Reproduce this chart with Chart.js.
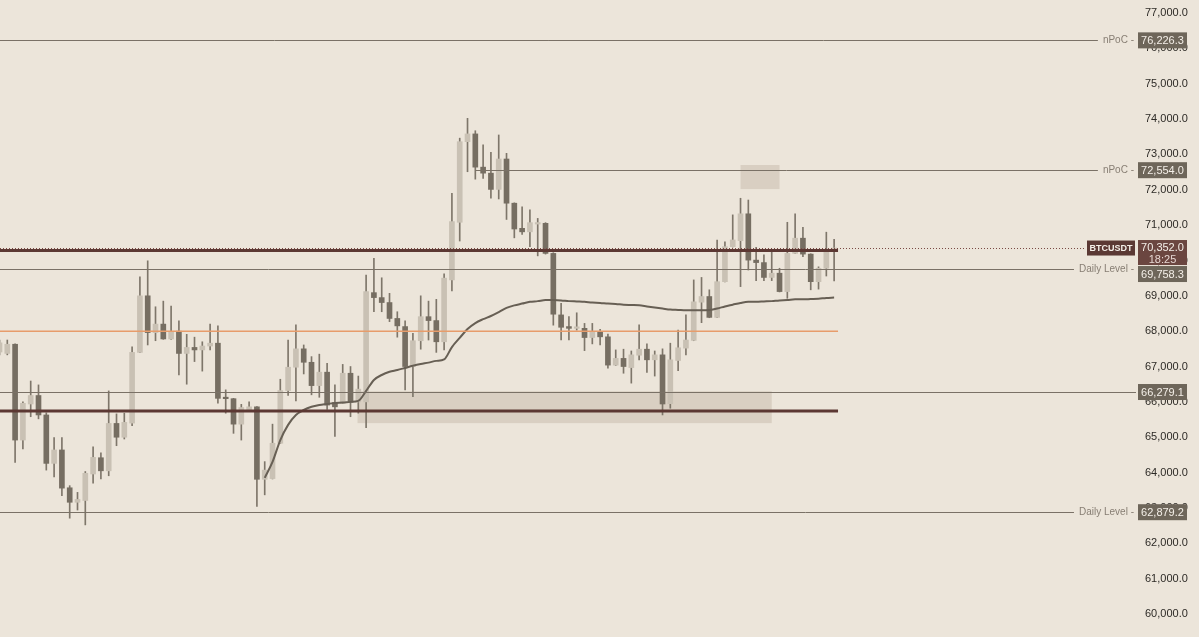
<!DOCTYPE html>
<html>
<head>
<meta charset="utf-8">
<title>BTCUSDT</title>
<script src="https://cdn.jsdelivr.net/npm/chart.js@4.4.1/dist/chart.umd.min.js"></script>
<style>
  html, body { margin: 0; padding: 0; background: #ece5da; }
  #wrap { width: 1199px; height: 637px; }
</style>
</head>
<body>
<div id="wrap"><canvas id="chart"></canvas></div>
<script>
// candles, one per bar index
const opens = [67410, 67370, 67630, 64920, 65940, 66180, 65630, 64260, 64640, 63570,
  63160, 63210, 63960, 64420, 64050, 65390, 65000, 65400, 67400, 69000,
  67960, 68200, 67780, 68000, 67370, 67540, 67470, 67580, 67660, 66100,
  66090, 65370, 65770, 65860, 63810, 63830, 64830, 66320, 66980, 67500,
  67120, 66460, 66840, 65980, 65960, 66810, 66000, 66000, 69090, 68950,
  68810, 68360, 68130, 67000, 67730, 68410, 68300, 67700, 69450, 71080,
  73360, 73580, 72640, 72470, 72010, 72870, 71620, 70910, 70810, 71030,
  71050, 70200, 68460, 68130, 68080, 68080, 67820, 67990, 67840, 67040,
  67230, 66970, 67320, 67490, 67190, 67330, 65950, 67170, 67520, 67740,
  68820, 68980, 68390, 69400, 70390, 70560, 71320, 70010, 69940, 69520,
  69640, 69120, 70200, 70630, 70180, 69400, 69780, 70250];
const highs = [67750, 67750, 67640, 66000, 66590, 66480, 65690, 64990, 64990, 63630,
  63440, 64030, 64730, 64560, 66310, 65660, 65680, 67560, 69540, 69990,
  68690, 68850, 68710, 68290, 67910, 67830, 67700, 68200, 68150, 66340,
  66100, 65930, 66000, 65870, 64310, 65370, 66640, 67750, 68180, 67610,
  67280, 67350, 67090, 66480, 67060, 67000, 66730, 69590, 70060, 69510,
  69070, 68550, 68290, 67940, 69000, 68850, 68900, 69620, 71900, 73460,
  74020, 73670, 73270, 73060, 73550, 73030, 71630, 71520, 71430, 71190,
  71070, 70220, 68790, 68410, 68520, 68220, 68220, 68050, 67920, 67470,
  67490, 67440, 68180, 67640, 67440, 67500, 67660, 68030, 68460, 69450,
  69520, 69170, 70580, 70530, 71290, 71760, 71710, 70370, 70160, 70250,
  69780, 71080, 71320, 70940, 70190, 69820, 70800, 70600];
const lows = [67330, 67330, 64290, 64670, 65580, 65520, 64070, 63880, 63350, 62710,
  62940, 62520, 63700, 63820, 63910, 64760, 64950, 65330, 67390, 67610,
  67730, 67770, 67770, 66760, 66500, 67140, 66870, 67470, 65960, 65680,
  65110, 64920, 65750, 63040, 63370, 63820, 64820, 66180, 66030, 66790,
  66200, 66130, 65790, 65020, 65950, 65580, 65680, 65270, 68550, 68550,
  68270, 67830, 66340, 66150, 67490, 67750, 67400, 67470, 69140, 70550,
  72510, 72300, 72320, 71760, 71740, 71160, 70640, 70740, 70390, 70130,
  70180, 68170, 67750, 67750, 68030, 67450, 67640, 67610, 66950, 67030,
  66810, 66530, 67190, 66830, 66730, 65630, 65820, 66880, 67330, 67730,
  68240, 68380, 68380, 69390, 70380, 69260, 69730, 69430, 69430, 69430,
  69110, 68930, 70190, 70110, 69170, 69190, 69560, 69420];
const closes = [67670, 67630, 64920, 65960, 66180, 65630, 64260, 64640, 63560, 63160,
  63240, 63980, 64430, 64050, 65390, 65000, 65420, 67400, 69000, 67960,
  68200, 67780, 67990, 67370, 67540, 67470, 67580, 67660, 66100, 66090,
  65370, 65840, 65860, 63810, 64070, 64830, 66320, 66980, 67500, 67120,
  66460, 66840, 65910, 65860, 66810, 65990, 66360, 69120, 68950, 68810,
  68360, 68150, 67000, 67730, 68410, 68300, 67700, 69500, 71100, 73360,
  73580, 72640, 72470, 72010, 72870, 71620, 70890, 70810, 71070, 71070,
  70200, 68480, 68110, 68080, 68120, 67820, 67990, 67840, 67040, 67230,
  67000, 67330, 67490, 67190, 67330, 65940, 67190, 67530, 67750, 68830,
  68980, 68390, 69400, 70390, 70580, 71320, 70010, 69940, 69520, 69640,
  69120, 70200, 70630, 70180, 69400, 69780, 70250, 70352];

// moving average, starts at bar 34
const maFrom = 34;
const maValues = [63850, 64300, 64920, 65350, 65630, 65770, 65860, 65910, 65940, 65970,
  65980, 66000, 66030, 66310, 66620, 66760, 66850, 66900, 66960, 67020,
  67070, 67110, 67160, 67200, 67550, 67810, 68060, 68230, 68340, 68430,
  68540, 68660, 68730, 68780, 68830, 68850, 68880, 68880, 68870, 68850,
  68840, 68830, 68810, 68800, 68780, 68770, 68750, 68740, 68730, 68700,
  68670, 68640, 68610, 68600, 68590, 68590, 68590, 68600, 68640, 68700,
  68750, 68800, 68830, 68830, 68840, 68850, 68870, 68880, 68900, 68900,
  68910, 68920, 68940, 68950];

const yTicks = [60000, 61000, 62000, 63000, 64000, 65000, 66000, 67000, 68000,
  69000, 70000, 71000, 72000, 73000, 74000, 75000, 76000, 77000];

// levels with a price tag on the scale
const tagPrices = [76226.3, 72554.0, 69758.3, 66279.1, 62879.2];
const tagNames = ['nPoC', 'nPoC', 'Daily Level', '', 'Daily Level'];
const tagFrom = [0, 61, 0, 0, 0];

const symbol = 'BTCUSDT';
const lastPrice = 70352.0;
const countdown = '18:25';

const heavyLevels = [70280, 65740];
const orangeLevel = 68000;
const levelEnd = 107.5;

// zones: [from bar, to bar, low, high]
const zones = [[45.9, 99.0, 65400, 66300], [95.0, 100.0, 72020, 72700]];

const fmt = v => v.toLocaleString('en-US', {minimumFractionDigits: 1, maximumFractionDigits: 1});

const idx = opens.map((_, i) => i);
const wickData = idx.map(i => ({x: i, y: [lows[i], highs[i]]}));
const bodyData = idx.map(i => ({x: i, y: [opens[i], closes[i]]}));
const bodyColors = idx.map(i => closes[i] >= opens[i] ? '#c9c1b4' : '#766e62');
const maData = maValues.map((v, k) => ({x: maFrom + k, y: v}));

function hline(ctx, x1, x2, py, color, width, dash) {
    ctx.beginPath();
    ctx.strokeStyle = color;
    ctx.lineWidth = width;
    ctx.setLineDash(dash || []);
    ctx.moveTo(x1, py);
    ctx.lineTo(x2, py);
    ctx.stroke();
    ctx.setLineDash([]);
}

const overlay = {
    id: 'overlay',
    beforeDatasetsDraw(chart) {
        const {ctx, scales: {x, y}} = chart;
        ctx.save();
        ctx.fillStyle = 'rgba(190,175,158,0.4)';
        zones.forEach(z => {
            const x1 = x.getPixelForValue(z[0]), x2 = x.getPixelForValue(z[1]);
            const y1 = y.getPixelForValue(z[3]), y2 = y.getPixelForValue(z[2]);
            ctx.fillRect(x1, y1, x2 - x1, y2 - y1);
        });
        ctx.restore();
    },
    afterDatasetsDraw(chart) {
        const {ctx, chartArea: a, scales: {x, y}} = chart;
        const xEnd = x.getPixelForValue(levelEnd);
        ctx.save();
        hline(ctx, a.left, xEnd, y.getPixelForValue(orangeLevel), '#e79c6b', 1.5);
        heavyLevels.forEach(p => hline(ctx, a.left, xEnd, y.getPixelForValue(p), '#5c3833', 3));
        ctx.restore();
    },
    afterDraw(chart) {
        const {ctx, chartArea: a, scales: {x, y}} = chart;
        ctx.save();
        ctx.textBaseline = 'middle';

        // tagged thin lines
        ctx.font = '10px "Liberation Sans"';
        tagPrices.forEach((p, k) => {
            const py = Math.round(y.getPixelForValue(p)) + 0.5;
            let lineEnd = a.right;
            if (tagNames[k]) {
                const t = tagNames[k] + ' -';
                ctx.fillStyle = '#877e73';
                ctx.textAlign = 'right';
                ctx.fillText(t, a.right - 2, py);
                lineEnd = a.right - 2 - ctx.measureText(t).width - 5;
            }
            hline(ctx, Math.max(a.left, x.getPixelForValue(tagFrom[k])), lineEnd, py, '#7a7166', 1);
        });

        // last price dotted line + symbol tag
        const lp = y.getPixelForValue(lastPrice);
        const symLeft = a.right - 49;
        hline(ctx, a.left, symLeft - 1, Math.round(lp) + 0.5, '#7a4a44', 1, [1, 2]);
        ctx.fillStyle = '#5b3934';
        ctx.fillRect(symLeft, lp - 7.5, 48, 15);
        ctx.fillStyle = '#f4efe8';
        ctx.textAlign = 'center';
        ctx.font = 'bold 9px "Liberation Sans"';
        ctx.fillText(symbol, symLeft + 24, lp + 0.5);

        // price boxes on the scale, pushed apart when they collide
        const boxes = tagPrices.map(p => ({c: y.getPixelForValue(p), h: 16, fill: '#6e665a', lines: [fmt(p)]}));
        boxes.push({c: lp, h: 25, fill: '#6b4640', lines: [fmt(lastPrice), countdown], top: lp - 8});
        boxes.forEach(b => { if (b.top === undefined) b.top = b.c - b.h / 2; });
        boxes.sort((p, q) => p.top - q.top);
        let prevBottom = -Infinity;
        ctx.font = '11px "Liberation Sans"';
        boxes.forEach(b => {
            b.top = Math.max(b.top, prevBottom + 1);
            prevBottom = b.top + b.h;
            ctx.fillStyle = b.fill;
            ctx.fillRect(a.right + 2, b.top, 49, b.h);
            ctx.fillStyle = '#f4efe8';
            ctx.textAlign = 'center';
            if (b.lines.length === 1) {
                ctx.fillText(b.lines[0], a.right + 26.5, b.top + b.h / 2 + 0.5);
            } else {
                ctx.fillText(b.lines[0], a.right + 26.5, b.top + 8);
                ctx.fillStyle = '#e6d6d2';
                ctx.fillText(b.lines[1], a.right + 26.5, b.top + 19.5);
            }
        });
        ctx.restore();
    }
};

new Chart(document.getElementById('chart'), {
    type: 'bar',
    data: {
        datasets: [
            {type: 'line', data: maData, borderColor: '#675f54', borderWidth: 2, pointRadius: 0,
             cubicInterpolationMode: 'monotone', order: 0},
            {data: bodyData, backgroundColor: bodyColors, barThickness: 5, grouped: false,
             minBarLength: 1.5, order: 1},
            {data: wickData, backgroundColor: '#7e766a', barThickness: 1, grouped: false, order: 2}
        ]
    },
    options: {
        responsive: true,
        maintainAspectRatio: false,
        animation: false,
        layout: {padding: 0},
        plugins: {legend: {display: false}, tooltip: {enabled: false}},
        scales: {
            x: {type: 'linear', display: false, min: 0.064, max: 145.7, offset: false},
            y: {
                position: 'right',
                min: 59349,
                max: 77368,
                grid: {display: false, drawTicks: false},
                border: {display: false},
                afterBuildTicks: s => { s.ticks = yTicks.map(v => ({value: v})); },
                afterFit: s => { s.width = 63; s.paddingTop = 0; s.paddingBottom = 0; },
                ticks: {
                    padding: 9,
                    color: '#2d2a26',
                    font: {family: 'Liberation Sans', size: 11},
                    callback: v => fmt(v)
                }
            }
        }
    },
    plugins: [overlay]
});
</script>
</body>
</html>
